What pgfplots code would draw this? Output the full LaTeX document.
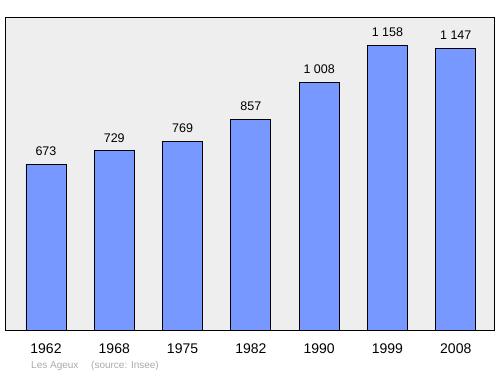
\documentclass[border=0pt]{standalone}
\usepackage{pgfplots}
\pgfplotsset{compat=1.18}
\usepackage{fontspec}
\setmainfont{Liberation Sans}
\definecolor{barblue}{HTML}{7799FF}
\definecolor{bg}{HTML}{EEEEEE}
\definecolor{src}{HTML}{AAAAAA}
\begin{document}
\begin{tikzpicture}[x=1pt,y=1pt]
\path[use as bounding box] (0,0) rectangle (500,374);
\begin{axis}[
 at={(5pt,44pt)}, anchor=south west,
 scale only axis, width=489pt, height=313pt,
 xmin=-0.6, xmax=6.56, ymin=0, ymax=1274,
 axis background/.style={fill=bg},
 axis line style={black, line width=0.9pt},
 ytick=\empty,
 xtick={0,...,6}, xticklabels={1962,1968,1975,1982,1990,1999,2008},
 major tick length=0pt, xtick style={draw=none},
 xticklabel style={font=\fontsize{14}{16}\selectfont, yshift=-10pt},
 clip=false,
]
\addplot[ybar, bar width=40pt, fill=barblue, draw=black, line width=0.8pt,
  nodes near coords, point meta=explicit symbolic,
  every node near coord/.style={font=\fontsize{12.5}{14}\selectfont, text=black, anchor=south, yshift=5pt}]
 table[col sep=comma, x=x, y=y, meta=label] {
x,y,label
0,673,673
1,729,729
2,769,769
3,857,857
4,1008,1 008
5,1158,1 158
6,1147,1 147
};
\end{axis}
\node[anchor=west, inner sep=0pt, text=src, font=\fontsize{10}{12}\selectfont] at (31,8) {Les Ageux};
\node[anchor=west, inner sep=0pt, text=src, font=\fontsize{10}{12}\selectfont] at (91,8) {(source: Insee)};
\end{tikzpicture}
\end{document}
